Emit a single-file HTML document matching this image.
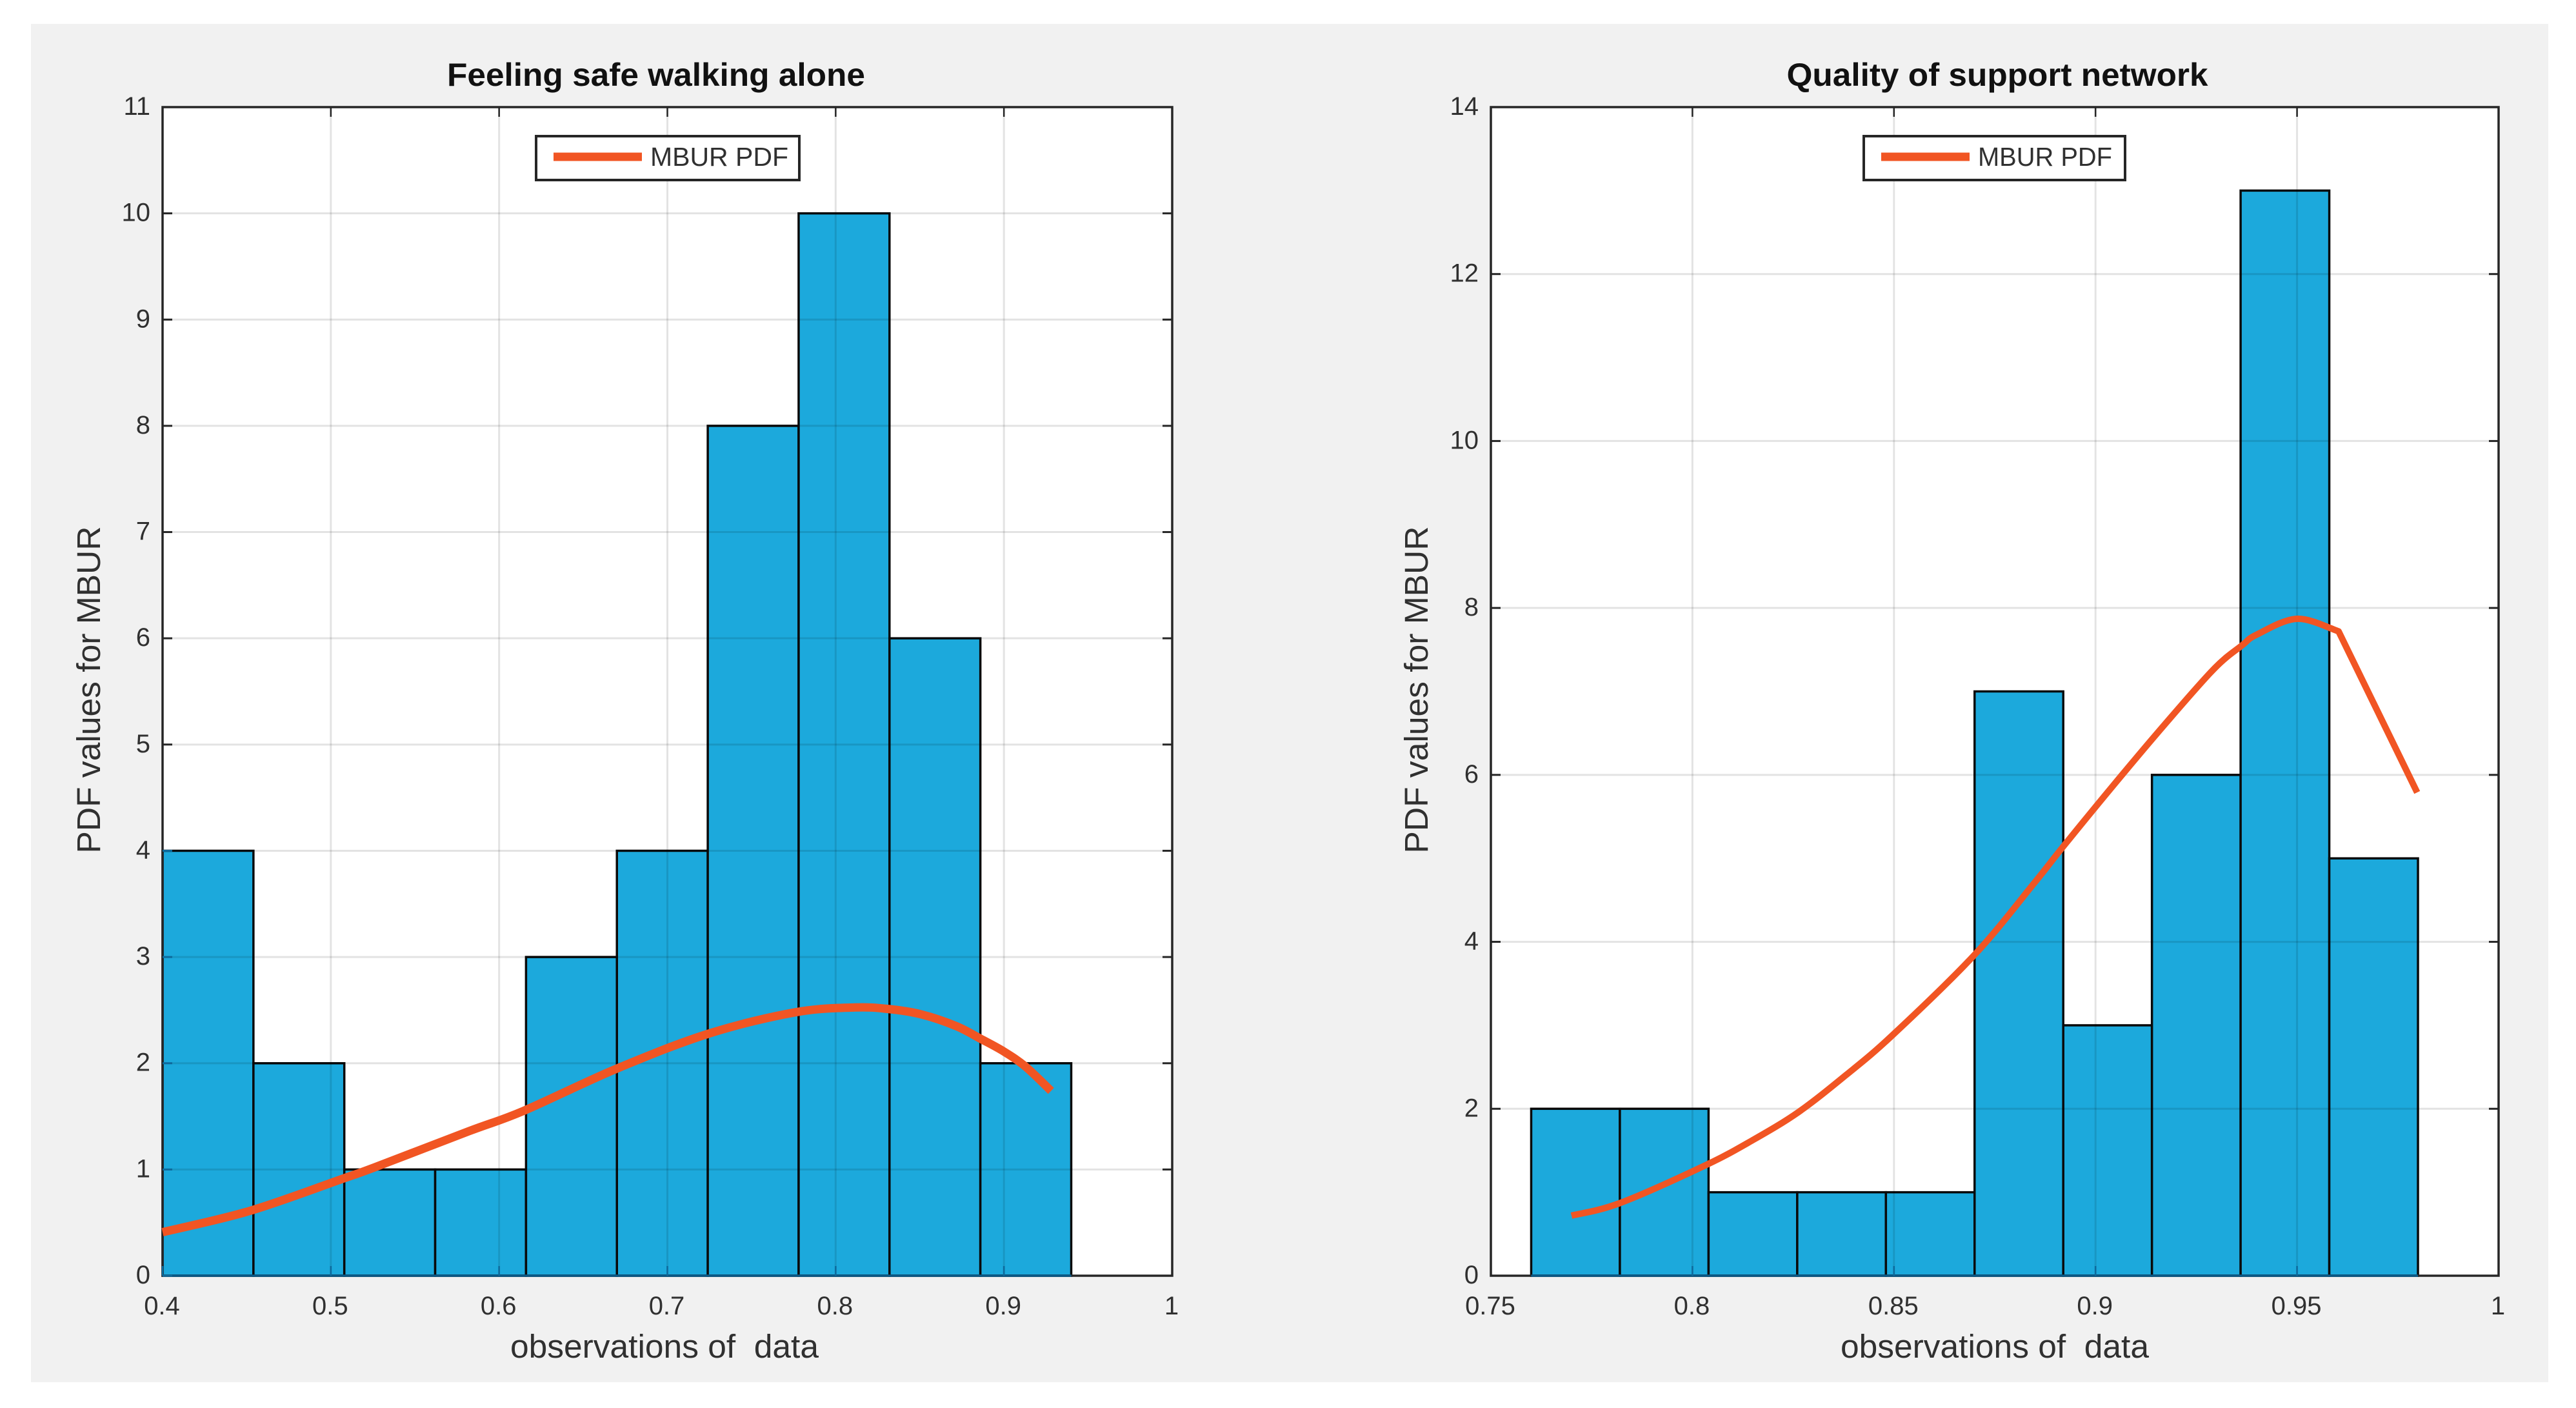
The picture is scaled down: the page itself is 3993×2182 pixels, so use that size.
<!DOCTYPE html>
<html>
<head>
<meta charset="utf-8">
<title>MBUR PDF histograms</title>
<style>
html,body{margin:0;padding:0;background:#fff;}
svg{display:block;font-family:"Liberation Sans",sans-serif;}
</style>
</head>
<body>
<svg id="figure" xmlns="http://www.w3.org/2000/svg" width="3993" height="2182" viewBox="0 0 3993 2182">
  <rect x="48" y="37" width="3902" height="2105" fill="#f1f1f1"/>
</svg>
<script>
// Left chart data
const leftBinEdges = [0.4,0.454,0.508,0.562,0.616,0.67,0.724,0.778,0.832,0.886,0.94];
const leftCounts = [4,2,1,1,3,4,8,10,6,2];
const leftCurveX = [0.4,0.4518,0.5074,0.526,0.582,0.6143,0.67,0.7248,0.7762,0.8114,0.8317,0.8509,0.8716,0.8862,0.9,0.9127,0.928];
const leftCurveY = [0.41,0.61,0.915,1.02,1.36,1.55,1.95,2.28,2.48,2.525,2.51,2.46,2.35,2.23,2.11,1.97,1.74];
const leftXTicks = [0.4,0.5,0.6,0.7,0.8,0.9,1];
const leftYTicks = [0,1,2,3,4,5,6,7,8,9,10,11];
const leftXDomain = [0.4,1];
const leftYDomain = [0,11];

// Right chart data
const rightBinEdges = [0.76,0.782,0.804,0.826,0.848,0.87,0.892,0.914,0.936,0.958,0.98];
const rightCounts = [2,2,1,1,1,7,3,6,13,5];
const rightCurveX = [0.77,0.782,0.8031,0.8148,0.8263,0.838,0.8496,0.8699,0.8849,0.8918,0.904,0.9171,0.9294,0.9363,0.94,0.95,0.9603,0.9798];
const rightCurveY = [0.72,0.87,1.32,1.62,1.96,2.4,2.88,3.84,4.71,5.13,5.85,6.6,7.27,7.55,7.68,7.87,7.72,5.79];
const rightXTicks = [0.75,0.8,0.85,0.9,0.95,1];
const rightYTicks = [0,2,4,6,8,10,12,14];
const rightXDomain = [0.75,1];
const rightYDomain = [0,14];

const NS = 'http://www.w3.org/2000/svg';
const root = document.getElementById('figure');

function shape(parent, tag, props, text) {
  const node = document.createElementNS(NS, tag);
  for (const k in props) node.setAttribute(k, props[k]);
  if (text !== undefined) node.textContent = text;
  parent.appendChild(node);
  return node;
}

// Smooth curve through the points; the tangent breaks at cornerAt (a point index counted from the end)
function smoothPath(pts, cornerFromEnd) {
  const corner = cornerFromEnd === null ? -1 : pts.length - 1 - cornerFromEnd;
  let d = 'M' + pts[0][0] + ' ' + pts[0][1];
  for (let i = 0; i < pts.length - 1; i++) {
    const p1 = pts[i], p2 = pts[i + 1];
    const p0 = (i === 0 || i === corner) ? p1 : pts[i - 1];
    const p3 = (i + 1 === pts.length - 1 || i + 1 === corner) ? p2 : pts[i + 2];
    const c1x = p1[0] + (p2[0] - p0[0]) / 6, c1y = p1[1] + (p2[1] - p0[1]) / 6;
    const c2x = p2[0] - (p3[0] - p1[0]) / 6, c2y = p2[1] - (p3[1] - p1[1]) / 6;
    d += ' C' + c1x + ' ' + c1y + ' ' + c2x + ' ' + c2y + ' ' + p2[0] + ' ' + p2[1];
  }
  return d;
}

function drawChart(cfg) {
  const L = cfg.left, R = cfg.right, T = 166, B = 1977;
  const sx = v => L + (v - cfg.xDomain[0]) / (cfg.xDomain[1] - cfg.xDomain[0]) * (R - L);
  const sy = v => B - (v - cfg.yDomain[0]) / (cfg.yDomain[1] - cfg.yDomain[0]) * (B - T);
  const covered = (x, y) => cfg.counts.some((c, i) => x >= cfg.edges[i] - 1e-9 && x <= cfg.edges[i + 1] + 1e-9 && y <= c);

  const group = shape(root, 'g', {});
  
  

  const plot = shape(group, 'rect', {x: L, y: T, width: R - L, height: B - T, fill: '#fff'});
  
  

  cfg.counts.forEach((c, i) => {
    const bar = shape(group, 'rect', {
      x: sx(cfg.edges[i]), y: sy(c),
      width: sx(cfg.edges[i + 1]) - sx(cfg.edges[i]), height: B - sy(c),
      fill: '#1ca9dc', stroke: '#0a0a0a', 'stroke-width': 3.5
    });
    
    
  });

  cfg.xTicks.forEach(t => {
    const grid = shape(group, 'line', {x1: sx(t), x2: sx(t), y1: T, y2: B, stroke: 'rgba(0,0,0,0.11)', 'stroke-width': 3});
    
    
  });
  cfg.yTicks.forEach(t => {
    const grid = shape(group, 'line', {x1: L, x2: R, y1: sy(t), y2: sy(t), stroke: 'rgba(0,0,0,0.11)', 'stroke-width': 3});
    
    
  });

  const frame = shape(group, 'rect', {x: L, y: T, width: R - L, height: B - T, fill: 'none', stroke: '#262626', 'stroke-width': 3.5});
  
  

  const base = shape(group, 'line', {x1: sx(cfg.edges[0]), x2: sx(cfg.edges[cfg.edges.length - 1]), y1: B, y2: B, stroke: '#0a5a88', 'stroke-width': 3.5});
  
  

  cfg.xTicks.forEach(t => {
    const bottomTick = shape(group, 'line', {x1: sx(t), x2: sx(t), y1: B, y2: B - 15, stroke: covered(t, 0.05) ? '#0e6a9c' : '#262626', 'stroke-width': 2.5});
    
    
    const topTick = shape(group, 'line', {x1: sx(t), x2: sx(t), y1: T, y2: T + 15, stroke: '#262626', 'stroke-width': 2.5});
    
    
    const label = shape(group, 'text', {x: sx(t) - 1, y: 2037, 'text-anchor': 'middle', 'font-size': 40, fill: '#303030'}, String(t));
    
    
  });

  cfg.yTicks.forEach(t => {
    const leftTick = shape(group, 'line', {x1: L, x2: L + 15, y1: sy(t), y2: sy(t), stroke: covered(cfg.xDomain[0] + 0.0001, t) && cfg.edges[0] <= cfg.xDomain[0] ? '#0e6a9c' : '#262626', 'stroke-width': 3});
    
    
    const rightTick = shape(group, 'line', {x1: R, x2: R - 15, y1: sy(t), y2: sy(t), stroke: '#262626', 'stroke-width': 3});
    
    
    const label = shape(group, 'text', {x: L - 19, y: sy(t) + 12, 'text-anchor': 'end', 'font-size': 40, fill: '#303030'}, String(t));
    
    
  });

  const curve = shape(group, 'path', {
    d: smoothPath(cfg.curveX.map((x, i) => [sx(x), sy(cfg.curveY[i])]), cfg.cornerFromEnd),
    fill: 'none', stroke: '#f15523', 'stroke-width': cfg.curveWidth, 'stroke-linejoin': 'round'
  });
  
  

  const title = shape(group, 'text', {x: cfg.titleX, y: 133, 'text-anchor': 'middle', 'font-size': 50, 'font-weight': 'bold', fill: '#111', textLength: cfg.titleLen, lengthAdjust: 'spacingAndGlyphs'}, cfg.title);
  
  

  const xTitle = shape(group, 'text', {x: cfg.xTitleX, y: 2104, 'text-anchor': 'middle', 'font-size': 51, fill: '#303030', textLength: 478, lengthAdjust: 'spacingAndGlyphs'}, 'observations of\u00a0 data');
  
  

  const yTitle = shape(group, 'text', {x: 0, y: 0, transform: 'translate(' + cfg.yTitleX + ',1069) rotate(-90)', 'text-anchor': 'middle', 'font-size': 51, fill: '#303030', textLength: 507, lengthAdjust: 'spacingAndGlyphs'}, 'PDF values for MBUR');
  
  

  const legend = shape(group, 'g', {});
  
  
  const box = shape(legend, 'rect', {x: cfg.legendX, y: 211, width: cfg.legendW, height: 68, fill: '#fff', stroke: '#262626', 'stroke-width': 4});
  
  
  const swatch = shape(legend, 'rect', {x: cfg.legendX + 27, y: 236.5, width: 137, height: 13, fill: '#f15523'});
  
  
  const entry = shape(legend, 'text', {x: cfg.legendX + 177, y: 257, 'font-size': 41, fill: '#303030', textLength: cfg.legendTextLen, lengthAdjust: 'spacingAndGlyphs'}, 'MBUR PDF');
  
  
}

drawChart({
  name: 'chart-feeling-safe', left: 252, right: 1817,
  xDomain: leftXDomain, yDomain: leftYDomain,
  edges: leftBinEdges, counts: leftCounts,
  curveX: leftCurveX, curveY: leftCurveY, curveWidth: 13, cornerFromEnd: null,
  xTicks: leftXTicks, yTicks: leftYTicks,
  title: 'Feeling safe walking alone', titleX: 1017, titleLen: 648,
  xTitleX: 1030, yTitleX: 155, legendX: 831, legendW: 408, legendTextLen: 214
});
drawChart({
  name: 'chart-support-network', left: 2311, right: 3873,
  xDomain: rightXDomain, yDomain: rightYDomain,
  edges: rightBinEdges, counts: rightCounts,
  curveX: rightCurveX, curveY: rightCurveY, curveWidth: 10, cornerFromEnd: 1,
  xTicks: rightXTicks, yTicks: rightYTicks,
  title: 'Quality of support network', titleX: 3096, titleLen: 653,
  xTitleX: 3092, yTitleX: 2213, legendX: 2889, legendW: 405, legendTextLen: 208
});
</script>
</body>
</html>
